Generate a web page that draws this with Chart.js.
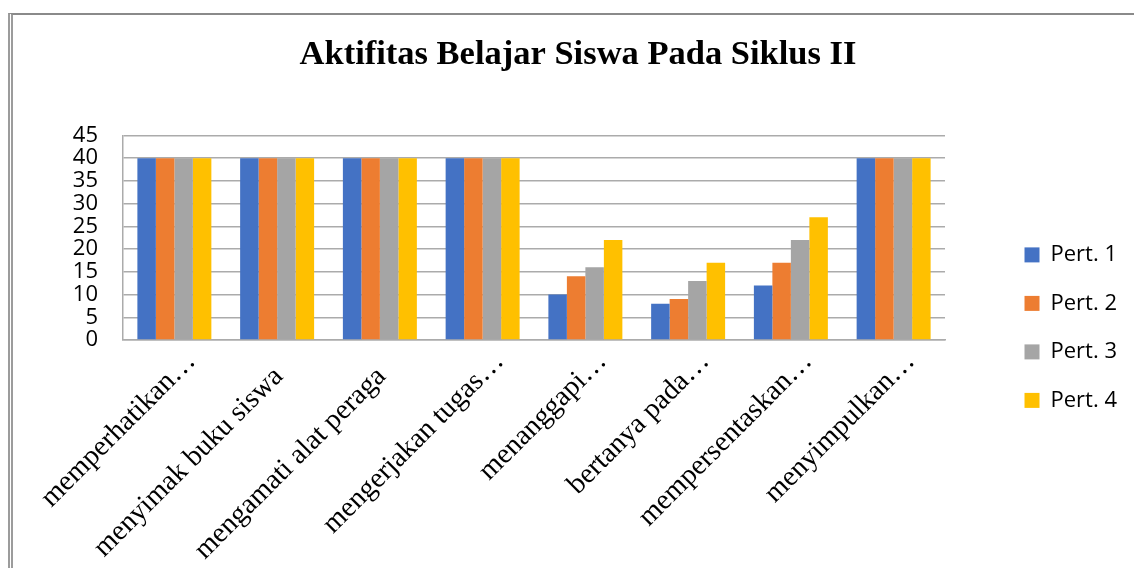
<!DOCTYPE html>
<html>
<head>
<meta charset="utf-8">
<script src="https://cdn.jsdelivr.net/npm/chart.js@4/dist/chart.umd.min.js"></script>
<style>
    html, body { margin: 0; padding: 0; background: #fff; overflow: hidden; }
    #wrap { position: relative; width: 1134px; height: 568px; }
    #frame {
        position: absolute; left: 8px; top: 13px; width: 1200px; height: 600px;
        border-left: 5px double #9c9c9c; border-top: 2px solid #8a8a8a;
    }
    #chart { position: absolute; left: 0; top: 0; }
</style>
</head>
<body>
<div id="wrap">
    <div id="frame"></div>
    <canvas id="chart" width="1134" height="568"></canvas>
</div>
<script>
// Chart data
const categories = [
    'memperhatikan…', 'menyimak buku siswa', 'mengamati alat peraga', 'mengerjakan tugas…',
    'menanggapi…', 'bertanya pada…', 'mempersentaskan…', 'menyimpulkan…'
];
const pert1 = [40, 40, 40, 40, 10, 8, 12, 40];
const pert2 = [40, 40, 40, 40, 14, 9, 17, 40];
const pert3 = [40, 40, 40, 40, 16, 13, 22, 40];
const pert4 = [40, 40, 40, 40, 22, 17, 27, 40];
const seriesNames = ['Pert. 1', 'Pert. 2', 'Pert. 3', 'Pert. 4'];
const yTicks = [0, 5, 10, 15, 20, 25, 30, 35, 40, 45];

const colors = ['#4472C4', '#ED7D31', '#A5A5A5', '#FFC000'];
const gridColor = '#ababab';

document.addEventListener('DOMContentLoaded', function() {
    const ctx = document.getElementById('chart').getContext('2d');
    const values = [pert1, pert2, pert3, pert4];

    new Chart(ctx, {
        type: 'bar',
        data: {
            labels: categories,
            datasets: values.map((v, i) => ({
                label: seriesNames[i],
                data: v,
                backgroundColor: colors[i],
                borderWidth: 0,
                categoryPercentage: 0.72,
                barPercentage: 1.0
            }))
        },
        options: {
            responsive: false,
            animation: false,
            devicePixelRatio: 1,
            layout: { padding: { left: 29, right: 7, top: 0, bottom: 0 } },
            plugins: {
                title: {
                    display: true,
                    text: 'Aktifitas Belajar Siswa Pada Siklus II',
                    color: '#000',
                    font: { family: 'Liberation Serif', size: 34.5, weight: 'bold', lineHeight: 1.2 },
                    padding: { top: 34, bottom: 60 }
                },
                legend: {
                    position: 'right',
                    align: 'start',
                    title: { display: true, text: '', font: { size: 12 }, padding: { top: 203, bottom: 0 } },
                    labels: {
                        color: '#000',
                        font: { family: 'Open Sans', size: 22 },
                        boxWidth: 15,
                        boxHeight: 15,
                        padding: 26.5
                    }
                },
                tooltip: { enabled: false }
            },
            scales: {
                x: {
                    grid: { display: false, drawTicks: false },
                    border: { display: true, color: gridColor, width: 1.5 },
                    ticks: {
                        autoSkip: false,
                        minRotation: 45,
                        maxRotation: 45,
                        labelOffset: 17,
                        padding: 5,
                        color: '#000',
                        font: { family: 'Liberation Serif', size: 28.5 },
                        // full (untruncated) labels sit a little lower, like the original
                        callback: function(value) {
                            const label = categories[value];
                            return label.endsWith('…') ? label : label + '\u00a0\u00a0\u00a0';
                        }
                    },
                    afterFit: function(scale) { scale.height = 228; }
                },
                y: {
                    min: 0,
                    max: 45,
                    afterBuildTicks: function(scale) {
                        scale.ticks = yTicks.map(v => ({ value: v }));
                    },
                    grid: { color: gridColor, lineWidth: 1.5, drawTicks: false },
                    border: { display: true, color: gridColor, width: 1.5 },
                    ticks: {
                        autoSkip: false,
                        padding: 25,
                        color: '#000',
                        font: { family: 'Open Sans', size: 22 }
                    },
                    afterFit: function(scale) { scale.width = 94; }
                },
                // empty spacer between plot and legend
                gap: {
                    type: 'linear',
                    position: 'right',
                    display: true,
                    grid: { display: false },
                    border: { display: false },
                    ticks: { display: false },
                    afterFit: function(scale) { scale.width = 53; }
                }
            }
        }
    });
});
</script>
</body>
</html>
